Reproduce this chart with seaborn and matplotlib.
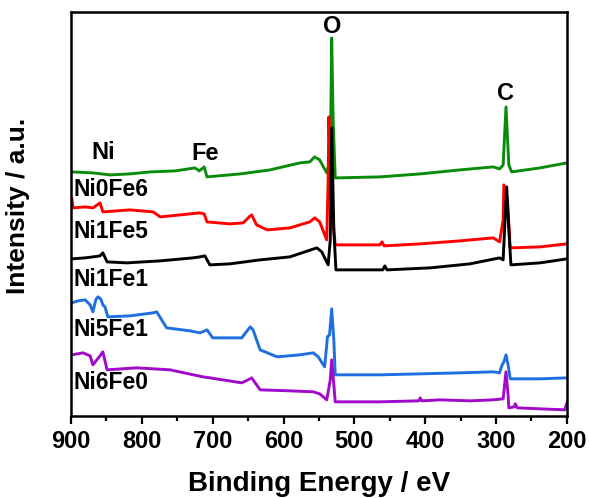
#import modules
import pandas as pd
import seaborn as sns
import matplotlib.pyplot as plt
from matplotlib.ticker import MultipleLocator

#XPS survey spectra (stacked, a.u.)
samples = ["Ni0Fe6", "Ni1Fe5", "Ni1Fe1", "Ni5Fe1", "Ni6Fe0"]
colors = ["#0a8c0a", "#ff0000", "#000000", "#1f6fe0", "#a00ac8"]

E_ni0fe6 = [899, 869, 845, 817, 788, 753, 725, 719, 712, 708, 661, 619, 577, 563, 556, 549, 539, 534, 532, 530,
            527, 464, 407, 351, 304, 295, 290, 286, 282, 278, 238, 200]
I_ni0fe6 = [243, 242, 240, 241, 243, 244, 247, 244, 248, 238, 241, 245, 252, 253, 258, 255, 242, 255, 377, 295,
            237, 238, 241, 245, 248, 246, 250, 308, 250, 243, 247, 252]

E_ni1fe5 = [899, 897, 880, 869, 863, 859, 855, 817, 784, 774, 732, 718, 712, 708, 676, 657, 647, 645, 638, 623,
            591, 563, 556, 549, 539, 537, 536, 533, 527, 464, 461, 458, 407, 351, 304, 295, 290, 289, 284, 280,
            238, 200]
I_ni1fe5 = [217, 207, 208, 207, 210, 212, 203, 205, 203, 198, 201, 202, 201, 193, 191, 192, 199, 200, 190, 185,
            187, 193, 197, 193, 175, 235, 298, 215, 170, 170, 173, 169, 171, 174, 177, 173, 195, 230, 215, 167,
            168, 171]

E_ni1fe1 = [899, 880, 869, 859, 855, 849, 821, 774, 728, 718, 711, 704, 676, 633, 591, 553, 546, 537, 534, 532,
            529, 526, 460, 457, 454, 393, 337, 295, 290, 288, 285, 282, 279, 238, 200]
I_ni1fe1 = [156, 157, 158, 159, 162, 153, 152, 154, 157, 158, 159, 150, 151, 155, 158, 167, 163, 150, 175, 287,
            185, 145, 145, 149, 145, 147, 151, 157, 155, 185, 228, 185, 150, 152, 156]

E_ni5fe1 = [899, 890, 880, 873, 869, 865, 862, 858, 855, 852, 848, 817, 784, 779, 765, 732, 718, 711, 708, 700,
            659, 647, 643, 633, 609, 577, 558, 551, 542, 539, 538, 535, 532, 529, 527, 464, 407, 351, 304, 295,
            292, 289, 286, 283, 280, 238, 200]
I_ni5fe1 = [112, 114, 115, 110, 103, 115, 118, 116, 110, 108, 98, 99, 102, 103, 87, 84, 82, 84, 85, 77,
            77, 88, 85, 65, 58, 60, 62, 58, 48, 70, 78, 80, 106, 75, 40, 40, 41, 42, 43, 42,
            49, 53, 60, 50, 36, 36, 37]

E_ni6fe0 = [899, 883, 873, 869, 859, 855, 849, 807, 760, 714, 704, 659, 650, 645, 633, 591, 558, 549, 539, 534,
            532, 529, 527, 464, 409, 407, 405, 379, 337, 304, 290, 286, 283, 282, 274, 273, 270, 238, 203, 200]
I_ni6fe0 = [60, 62, 59, 50, 59, 63, 45, 47, 45, 38, 37, 32, 35, 37, 25, 24, 23, 21, 15, 35,
            55, 30, 13, 13, 14, 17, 14, 15, 14, 15, 16, 43, 20, 7, 8, 11, 7, 6, 5, 12]

#label positions (energy, intensity)
label_y = [225, 183, 135, 85, 32]
peaks = ["O", "C", "Ni", "Fe"]
peak_x = [532, 286, 855, 710]
peak_y = [388, 321, 262, 261]

#build long table
frames = []
for name, e, i in zip(samples, [E_ni0fe6, E_ni1fe5, E_ni1fe1, E_ni5fe1, E_ni6fe0],
                      [I_ni0fe6, I_ni1fe5, I_ni1fe1, I_ni5fe1, I_ni6fe0]):
    frames.append(pd.DataFrame({"energy": e, "intensity": i, "sample": name}))
df = pd.concat(frames)

sns.set_style("ticks")
plt.rcParams["font.family"] = ["Liberation Sans", "DejaVu Sans"]
plt.rcParams["font.weight"] = "bold"
plt.rcParams["text.color"] = "black"
plt.rcParams["axes.labelcolor"] = "black"
plt.rcParams["axes.edgecolor"] = "black"
plt.rcParams["xtick.color"] = "black"

fig = plt.figure(figsize=(5.89, 4.98), dpi=100)
ax = fig.add_axes([0.1205, 0.165, 0.842, 0.811])

sns.lineplot(data=df, x="energy", y="intensity", hue="sample", palette=dict(zip(samples, colors)),
             estimator=None, sort=False, linewidth=2.1, legend=False, ax=ax)

#sample names
for name, y in zip(samples, label_y):
    ax.text(897, y, name, fontsize=16.5, fontweight="bold", ha="left", va="center")

#element labels
for t, x, y in zip(peaks, peak_x, peak_y):
    ax.text(x, y, t, fontsize=17, fontweight="bold", ha="center", va="center")

ax.set_xlim(900, 200)
ax.set_ylim(-1, 403)
ax.set_yticks([])
ax.xaxis.set_major_locator(MultipleLocator(100))
ax.xaxis.set_minor_locator(MultipleLocator(50))
ax.tick_params(axis="x", which="major", direction="out", length=6, width=1.6, labelsize=17, pad=4)
ax.tick_params(axis="x", which="minor", direction="out", length=3.5, width=1.6)
for lab in ax.get_xticklabels():
    lab.set_fontweight("bold")
for s in ax.spines.values():
    s.set_linewidth(1.8)

ax.set_xlabel("Binding Energy / eV", fontsize=20, fontweight="bold", labelpad=13)
ax.set_ylabel("Intensity / a.u.", fontsize=19, fontweight="bold", labelpad=8)
ax.yaxis.set_label_coords(-0.082, 0.52)

plt.savefig("out.png", dpi=100)
plt.close()
